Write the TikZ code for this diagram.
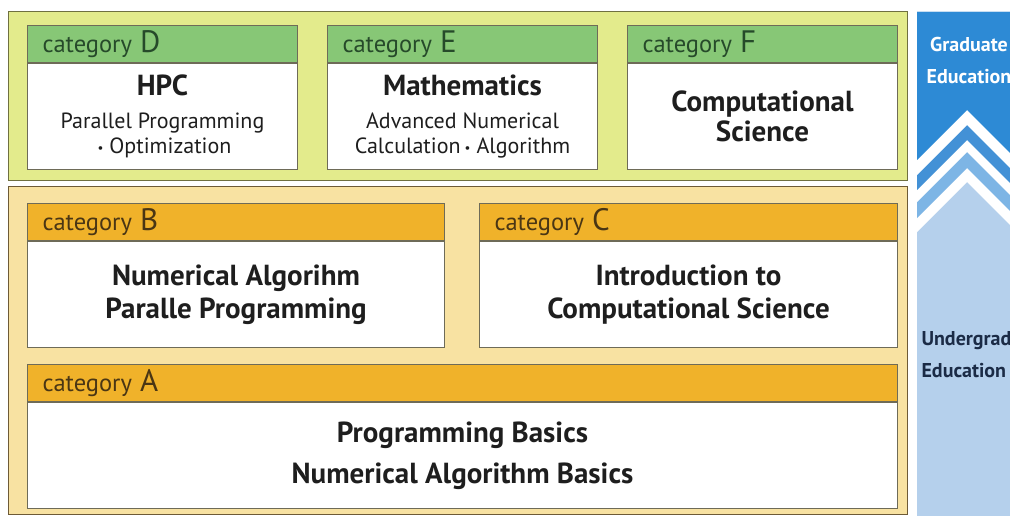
\documentclass[tikz,border=0pt]{standalone}
\usepackage{fontspec}
\setmainfont{PT Sans}
\usetikzlibrary{positioning}
\definecolor{leafbg}{HTML}{E3EB8C}
\definecolor{leafhead}{HTML}{87C776}
\definecolor{leafink}{HTML}{264A2A}
\definecolor{leafrim}{HTML}{6F7040}
\definecolor{sandbg}{HTML}{F8E2A2}
\definecolor{sandhead}{HTML}{F0B22A}
\definecolor{sandink}{HTML}{4A3614}
\definecolor{sandrim}{HTML}{6E5A36}
\definecolor{rim}{HTML}{6E6B58}
\definecolor{skydeep}{HTML}{2D8AD5}
\definecolor{skymid}{HTML}{4391D6}
\definecolor{skylight}{HTML}{7DB5E5}
\definecolor{skypale}{HTML}{B5D0EC}
\definecolor{ink}{HTML}{1E1E1E}
\definecolor{navy}{HTML}{1B2B46}
\newcommand\catlabel[1]{category {\fontsize{31}{31}\selectfont #1}}
\newcommand\ttl[1]{{\bfseries\fontsize{29}{30}\selectfont #1}}
\newcommand\midot{\hspace{4pt}{\fontsize{13}{13}\selectfont\raisebox{1pt}{\textbullet}}\hspace{6pt}}

\begin{document}
\begin{tikzpicture}[x=1pt,y=-1pt,
  panel/.style 2 args={draw=#1,fill=#2,line width=1pt},
  head/.style 2 args={draw=rim,fill=#1,line width=1pt,text width=#2,inner xsep=15pt,inner ysep=0pt,minimum height=37pt,anchor=north west,align=left,font=\fontsize{24.5}{26}\selectfont},
  greenhead/.style={head={leafhead}{#1},text=leafink},
  orangehead/.style={head={sandhead}{#1},text=sandink},
  body/.style={draw=rim,fill=white,line width=1pt,minimum width=#1,minimum height=106pt,inner sep=0pt,align=center,text=ink,font=\fontsize{22}{25}\selectfont},
  heavy/.style={font=\bfseries\fontsize{29}{33}\selectfont},
  side/.style={font=\bfseries\fontsize{20}{32}\selectfont,align=left,anchor=west}
]
\useasboundingbox (0,0) rectangle (1010,516);
\clip (0,0) rectangle (1010,516);
\fill[white] (0,0) rectangle (1010,516);

% two level panels
\draw[panel={leafrim}{leafbg}] (8,12) rectangle (907,181);
\draw[panel={sandrim}{sandbg}] (8,187) rectangle (907,514);

% education strip with chevrons
\fill[skypale] (917,12) rectangle (1010,516);
\foreach \ay/\col in {182/white,168/skylight,152/white,140/skymid,125/white,110/skydeep}
  \fill[\col] (917,12) -- (1010,12) -- (1010,{\ay+43}) -- (967,\ay) -- (917,{\ay+50}) -- cycle;
\node[side,text=white,align=center,anchor=center] (grad) at (969,61) {Graduate\\Education};
\node[side,text=navy] (under) at (918,355) {Undergraduate\\Education};

% graduate level
\node[greenhead=240pt] (dHead) at (27,25) {\catlabel{D}};
\node[body=270pt,below=0pt of dHead] (dBody) {\ttl{HPC}\\[8pt]Parallel Programming\\\midot Optimization};
\node[greenhead=240pt] (eHead) at (327,25) {\catlabel{E}};
\node[body=270pt,below=0pt of eHead] (eBody) {\ttl{Mathematics}\\[8pt]Advanced Numerical\\Calculation\midot Algorithm};
\node[greenhead=240pt] (fHead) at (627,25) {\catlabel{F}};
\node[body=270pt,font=\bfseries\fontsize{29}{30}\selectfont,below=0pt of fHead] (fBody) {Computational\\Science};

% undergraduate level
\node[orangehead=387pt] (bHead) at (27,203) {\catlabel{B}};
\node[body=417pt,heavy,below=0pt of bHead] (bBody) {Numerical Algorihm\\Paralle Programming};
\node[orangehead=388pt] (cHead) at (479,203) {\catlabel{C}};
\node[body=418pt,heavy,below=0pt of cHead] (cBody) {Introduction to\\Computational Science};
\node[orangehead=840pt] (aHead) at (27,364) {\catlabel{A}};
\node[body=870pt,font=\bfseries\fontsize{29}{41}\selectfont,below=0pt of aHead] (aBody) {Programming Basics\\Numerical Algorithm Basics};
\end{tikzpicture}
\end{document}
